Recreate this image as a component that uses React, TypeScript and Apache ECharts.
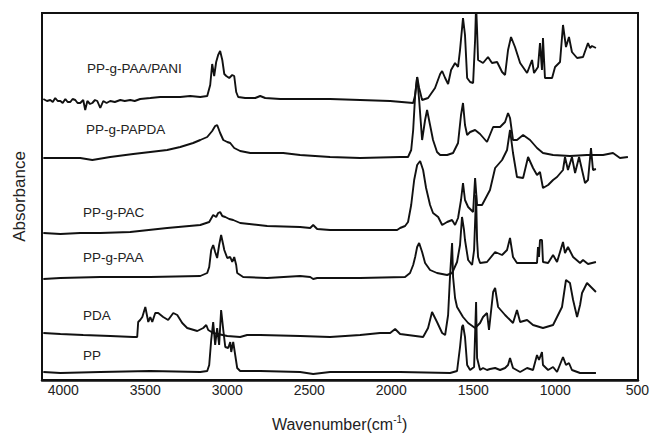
import React, { useEffect, useRef } from 'react';
import * as echarts from 'echarts';

// Wavenumber (cm-1) vs. absorbance (a.u., curves stacked as in the figure)
const seriesNames = ['PP-g-PAA/PANI', 'PP-g-PAPDA', 'PP-g-PAC', 'PP-g-PAA', 'PDA', 'PP'];

const ppgPaaPani: [number, number][] = [
  [4122, 2.81], [4100, 2.79], [4080, 2.80], [4065, 2.78], [4050, 2.82], [4035, 2.79], [4019, 2.79],
  [4005, 2.77], [3989, 2.81], [3975, 2.78], [3959, 2.78], [3945, 2.81], [3929, 2.80], [3915, 2.77],
  [3899, 2.77], [3881, 2.80], [3869, 2.70], [3856, 2.79], [3840, 2.76], [3826, 2.77], [3810, 2.80],
  [3796, 2.79], [3778, 2.72], [3760, 2.79], [3740, 2.77], [3718, 2.79], [3690, 2.78], [3657, 2.80],
  [3630, 2.79], [3597, 2.80], [3570, 2.79], [3537, 2.81], [3476, 2.82], [3416, 2.83],
  [3355, 2.83], [3295, 2.83], [3235, 2.84], [3174, 2.83], [3132, 2.84], [3114, 2.95], [3102, 3.16],
  [3090, 3.04], [3078, 3.18], [3066, 3.25], [3054, 3.29], [3041, 3.20], [3029, 3.06], [3017, 3.04],
  [2999, 3.02], [2981, 3.05], [2969, 3.04], [2957, 2.88], [2945, 2.83], [2903, 2.82], [2842, 2.82],
  [2812, 2.84], [2782, 2.82], [2691, 2.81], [2571, 2.81], [2390, 2.81], [2208, 2.80], [2027, 2.79],
  [1888, 2.77], [1876, 2.85], [1864, 3.03], [1852, 2.92], [1834, 2.80], [1798, 2.82], [1756, 2.92],
  [1725, 3.06], [1713, 3.09], [1695, 3.02], [1677, 2.96], [1659, 3.10], [1635, 3.17], [1617, 3.13],
  [1605, 3.30], [1587, 3.62], [1575, 3.45], [1562, 3.02], [1544, 2.98], [1526, 2.97], [1514, 3.40],
  [1508, 3.75], [1502, 3.50], [1496, 3.20], [1466, 3.17], [1436, 3.23], [1412, 3.17], [1381, 3.18],
  [1351, 3.08], [1333, 3.05], [1315, 3.30], [1297, 3.43], [1273, 3.33], [1242, 3.17], [1200, 3.07],
  [1170, 3.20], [1158, 3.07], [1134, 3.13], [1122, 3.37], [1110, 3.10], [1104, 3.42], [1092, 3.02],
  [1049, 3.02], [1031, 3.13], [1001, 3.18], [983, 3.55], [965, 3.33], [947, 3.43], [929, 3.28],
  [898, 3.22], [862, 3.23], [832, 3.37], [820, 3.32], [808, 3.34], [784, 3.32],
];

const ppgPapda: [number, number][] = [
  [4122, 2.22], [4019, 2.22], [3899, 2.22], [3826, 2.20], [3718, 2.23], [3579, 2.26], [3476, 2.28],
  [3374, 2.30], [3295, 2.33], [3217, 2.37], [3174, 2.40], [3132, 2.43], [3102, 2.49], [3084, 2.54],
  [3072, 2.55], [3054, 2.47], [3035, 2.40], [3011, 2.38], [2993, 2.37], [2969, 2.32], [2933, 2.29],
  [2872, 2.27], [2673, 2.27], [2571, 2.25], [2390, 2.23], [2208, 2.22], [1967, 2.23], [1919, 2.23],
  [1900, 2.30], [1888, 2.50], [1876, 2.85], [1864, 3.03], [1852, 2.80], [1834, 2.40], [1816, 2.60],
  [1804, 2.70], [1786, 2.55], [1768, 2.40], [1744, 2.28], [1725, 2.25], [1683, 2.25], [1647, 2.27],
  [1617, 2.37], [1599, 2.65], [1587, 2.77], [1575, 2.55], [1562, 2.45], [1544, 2.48], [1514, 2.50],
  [1484, 2.46], [1442, 2.38], [1405, 2.53], [1363, 2.53], [1333, 2.58], [1315, 2.67], [1303, 2.62],
  [1285, 2.40], [1261, 2.40], [1224, 2.45], [1182, 2.40], [1140, 2.32], [1104, 2.27], [1043, 2.25],
  [941, 2.24], [838, 2.25], [741, 2.25], [681, 2.27], [639, 2.22], [591, 2.23],
];

const ppgPac: [number, number][] = [
  [4122, 1.47], [4019, 1.46], [3899, 1.47], [3778, 1.47], [3597, 1.48], [3374, 1.52], [3174, 1.55],
  [3120, 1.58], [3096, 1.65], [3078, 1.63], [3066, 1.67], [3054, 1.68], [3041, 1.64], [3023, 1.63],
  [2999, 1.61], [2975, 1.60], [2933, 1.57], [2770, 1.54], [2571, 1.53], [2510, 1.52], [2492, 1.55],
  [2468, 1.51], [2390, 1.50], [2208, 1.50], [1985, 1.50], [1967, 1.52], [1937, 1.54], [1919, 1.58],
  [1900, 1.75], [1882, 2.00], [1864, 2.15], [1846, 2.19], [1828, 2.10], [1810, 1.92], [1786, 1.75],
  [1768, 1.67], [1737, 1.63], [1713, 1.55], [1683, 1.58], [1653, 1.60], [1635, 1.55], [1617, 1.62],
  [1599, 1.80], [1587, 1.97], [1575, 1.80], [1556, 1.73], [1526, 1.68], [1514, 2.02], [1502, 1.75],
  [1472, 1.75], [1424, 1.90], [1393, 2.12], [1351, 2.20], [1321, 2.30], [1303, 2.50], [1285, 2.27],
  [1261, 2.03], [1224, 2.02], [1194, 2.23], [1164, 2.12], [1140, 2.05], [1122, 2.08], [1104, 1.92],
  [1073, 1.95], [1043, 2.00], [1019, 2.03], [983, 2.10], [971, 2.23], [953, 2.10], [929, 2.23],
  [910, 2.07], [886, 2.23], [850, 1.97], [832, 2.00], [814, 2.32], [802, 2.10], [784, 2.11],
];

const ppgPaa: [number, number][] = [
  [4122, 1.01], [4019, 1.02], [3778, 1.03], [3476, 1.03], [3174, 1.04], [3132, 1.07], [3120, 1.13],
  [3108, 1.30], [3096, 1.35], [3084, 1.28], [3072, 1.22], [3060, 1.35], [3048, 1.45], [3035, 1.35],
  [3029, 1.30], [3011, 1.22], [2993, 1.23], [2981, 1.18], [2969, 1.23], [2957, 1.15], [2951, 1.07],
  [2915, 1.03], [2770, 1.02], [2571, 1.04], [2510, 1.03], [2492, 1.01], [2468, 1.02], [2208, 1.02],
  [1937, 1.03], [1907, 1.07], [1888, 1.15], [1876, 1.23], [1864, 1.33], [1852, 1.37], [1834, 1.28],
  [1816, 1.17], [1786, 1.10], [1744, 1.07], [1683, 1.05], [1653, 1.07], [1623, 1.18], [1605, 1.35],
  [1593, 1.63], [1581, 1.50], [1575, 1.40], [1556, 1.20], [1532, 1.15], [1520, 1.30], [1508, 1.85],
  [1502, 1.40], [1496, 1.23], [1484, 1.17], [1442, 1.18], [1393, 1.28], [1351, 1.25], [1321, 1.30],
  [1303, 1.42], [1285, 1.23], [1261, 1.17], [1200, 1.17], [1140, 1.17], [1134, 1.33], [1128, 1.23],
  [1122, 1.40], [1110, 1.40], [1104, 1.18], [1073, 1.17], [1043, 1.25], [1019, 1.18], [983, 1.38],
  [971, 1.27], [953, 1.33], [922, 1.23], [880, 1.17], [862, 1.20], [832, 1.16], [784, 1.18],
];

const pda: [number, number][] = [
  [4122, 0.47], [4019, 0.46], [3881, 0.45], [3718, 0.44], [3579, 0.43], [3555, 0.43], [3549, 0.58],
  [3537, 0.60], [3524, 0.63], [3506, 0.73], [3488, 0.58], [3476, 0.63], [3464, 0.58], [3446, 0.67],
  [3428, 0.67], [3398, 0.63], [3368, 0.60], [3337, 0.67], [3313, 0.65], [3283, 0.57], [3253, 0.52],
  [3192, 0.49], [3156, 0.52], [3138, 0.55], [3126, 0.50], [3096, 0.47], [3011, 0.44], [2933, 0.43],
  [2891, 0.45], [2812, 0.45], [2571, 0.44], [2390, 0.43], [2208, 0.45], [2088, 0.47], [2027, 0.47],
  [1997, 0.51], [1967, 0.46], [1828, 0.43], [1798, 0.52], [1774, 0.68], [1744, 0.58], [1713, 0.47],
  [1695, 0.45], [1677, 0.65], [1665, 1.05], [1653, 1.37], [1647, 1.03], [1635, 0.82], [1623, 0.73],
  [1587, 0.63], [1556, 0.57], [1514, 0.52], [1484, 0.57], [1466, 0.63], [1442, 0.67], [1430, 0.50],
  [1405, 0.88], [1393, 0.92], [1375, 0.73], [1333, 0.65], [1285, 0.57], [1261, 0.70], [1242, 0.58],
  [1200, 0.60], [1164, 0.55], [1104, 0.52], [1043, 0.55], [989, 0.73], [965, 1.00], [941, 0.97],
  [922, 0.80], [898, 0.63], [880, 0.75], [868, 0.87], [838, 0.97], [808, 0.92], [784, 0.88],
];

const pp: [number, number][] = [
  [4122, 0.08], [4019, 0.07], [3778, 0.08], [3476, 0.09], [3174, 0.08], [3132, 0.09], [3120, 0.15],
  [3108, 0.40], [3096, 0.58], [3084, 0.35], [3072, 0.52], [3060, 0.35], [3048, 0.70], [3035, 0.50],
  [3023, 0.33], [3005, 0.32], [2993, 0.38], [2987, 0.28], [2975, 0.38], [2963, 0.25], [2951, 0.12],
  [2933, 0.09], [2812, 0.09], [2571, 0.08], [2492, 0.06], [2390, 0.08], [1967, 0.08], [1665, 0.07],
  [1623, 0.09], [1605, 0.33], [1593, 0.53], [1587, 0.55], [1575, 0.43], [1562, 0.15], [1544, 0.10],
  [1520, 0.13], [1508, 0.78], [1502, 0.22], [1484, 0.10], [1466, 0.12], [1442, 0.10], [1424, 0.11],
  [1393, 0.12], [1363, 0.10], [1333, 0.12], [1315, 0.15], [1303, 0.22], [1285, 0.12], [1242, 0.08],
  [1200, 0.12], [1164, 0.10], [1140, 0.25], [1128, 0.20], [1110, 0.28], [1104, 0.15], [1073, 0.10],
  [1043, 0.13], [1019, 0.08], [983, 0.23], [965, 0.15], [947, 0.17], [929, 0.10], [880, 0.07],
  [784, 0.07],
];

const spectra = [ppgPaaPani, ppgPapda, ppgPac, ppgPaa, pda, pp];
const tickLabels = [500, 1000, 1500, 2000, 2500, 3000, 3500, 4000];

// layout of the in-plot curve labels (left x, centre y in px)
const labelPos: [number, number][] = [
  [87, 68], [86, 129], [83, 212], [83, 257], [83, 315], [83, 355],
];

const FONT = '"Liberation Sans", Arial, Helvetica, sans-serif';

export default function App() {
  const ref = useRef<HTMLDivElement>(null);
  useEffect(() => {
    document.body.style.margin = '0';
    if (!ref.current) return;
    const chart = echarts.init(ref.current, undefined, { renderer: 'svg' });
    chart.setOption({
      animation: false,
      backgroundColor: '#fff',
      grid: [
        { left: 42, right: 14, top: 13, bottom: 57, show: true, borderColor: '#111', borderWidth: 2, backgroundColor: 'transparent' },
        { left: 42, right: 9, top: 13, bottom: 57, show: false },
      ],
      xAxis: [
        {
          type: 'value', gridIndex: 0, min: 530, max: 4130, inverse: true,
          axisLine: { show: true, lineStyle: { color: '#111', width: 2.5 } },
          axisTick: { show: false }, axisLabel: { show: false }, splitLine: { show: false },
        },
        {
          type: 'value', gridIndex: 1, min: 500, max: 4130, interval: 500, inverse: true,
          axisLine: { show: false }, axisTick: { show: false }, splitLine: { show: false },
          axisLabel: {
            show: true, margin: 6, color: '#222', fontSize: 14, fontFamily: FONT,
            formatter: (v: number) => (tickLabels.indexOf(v) >= 0 ? String(v) : ''),
          },
          name: '{a|Wavenumber(cm}{s|-1}{a|)}',
          nameLocation: 'middle', nameGap: 37,
          nameTextStyle: {
            color: '#222', fontFamily: FONT,
            rich: {
              a: { fontSize: 16, fontFamily: FONT, color: '#222', lineHeight: 20 },
              s: { fontSize: 10, fontFamily: FONT, color: '#222', lineHeight: 10, verticalAlign: 'top' },
            },
          },
        },
      ],
      yAxis: [
        {
          type: 'value', gridIndex: 0, min: 0, max: 3.67,
          axisLine: { show: false }, axisTick: { show: false }, axisLabel: { show: false }, splitLine: { show: false },
          name: 'Absorbance', nameLocation: 'middle', nameGap: 14,
          nameTextStyle: { fontSize: 17, color: '#222', fontFamily: FONT },
        },
        {
          type: 'value', gridIndex: 1, min: 0, max: 3.67, show: false,
        },
      ],
      series: spectra.map((d, i) => ({
        name: seriesNames[i],
        type: 'line',
        xAxisIndex: 0,
        yAxisIndex: 0,
        data: d,
        showSymbol: false,
        symbol: 'none',
        clip: true,
        lineStyle: { color: '#111', width: 1.9 },
      })),
      graphic: seriesNames.map((n, i) => ({
        type: 'text',
        x: labelPos[i][0],
        y: labelPos[i][1],
        style: { text: n, fontSize: 13.5, fontFamily: FONT, fill: '#222', verticalAlign: 'middle', align: 'left' },
      })),
    });
    return () => chart.dispose();
  }, []);
  return <div ref={ref} style={{ position: 'fixed', left: 0, top: 0, width: 652, height: 437 }} />;
}
